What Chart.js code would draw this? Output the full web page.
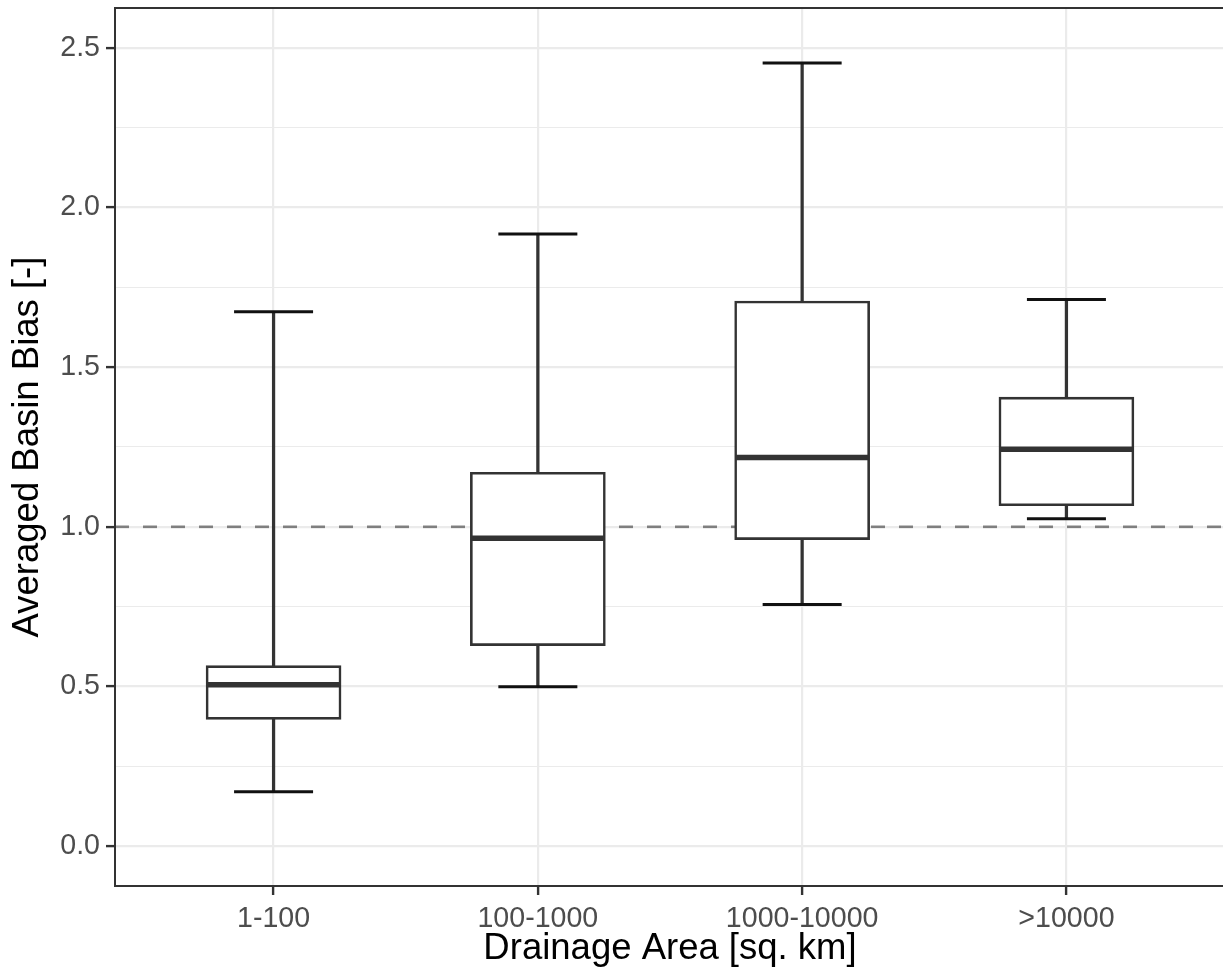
<!DOCTYPE html>
<html>
<head>
<meta charset="utf-8">
<script src="https://cdn.jsdelivr.net/npm/chart.js@4/dist/chart.umd.min.js"></script>
<style>
  html, body { margin: 0; padding: 0; background: #ffffff; overflow: hidden; }
  #wrap { width: 1226px; height: 976px; position: relative; }
</style>
</head>
<body>
<div id="wrap"><canvas id="c"></canvas></div>
<script>
// ---- data ----
const categories   = ['1-100', '100-1000', '1000-10000', '>10000'];
const whiskerLow   = [0.170, 0.499, 0.757, 1.025];
const quartile1    = [0.397, 0.628, 0.960, 1.066];
const medians      = [0.505, 0.964, 1.217, 1.243];
const quartile3    = [0.565, 1.171, 1.707, 1.406];
const whiskerHigh  = [1.674, 1.917, 2.453, 1.712];
const referenceValue = 1.0;
const yTickValues  = [0, 0.25, 0.5, 0.75, 1, 1.25, 1.5, 1.75, 2, 2.25, 2.5];
const xTitle = 'Drainage Area [sq. km]';
const yTitle = 'Averaged Basin Bias [-]';

const FONT = '"Liberation Sans", Arial, Helvetica, sans-serif';
const xPos = categories.map((_, i) => i + 1);
const isMajor = v => Math.abs(v * 2 - Math.round(v * 2)) < 1e-9;

const framePlugin = {
  id: 'frame',
  afterDatasetsDraw(chart) {
    const { ctx, chartArea: a } = chart;
    ctx.save();
    ctx.strokeStyle = '#333333';
    ctx.lineWidth = 2;
    ctx.strokeRect(a.left, a.top, a.right - a.left, a.bottom - a.top);
    ctx.restore();
  }
};

const datasets = [
  {
    type: 'line',
    label: 'reference',
    data: [{ x: 0.4, y: referenceValue }, { x: 4.6, y: referenceValue }],
    borderColor: '#7f7f7f',
    borderWidth: 2.6,
    borderDash: [14, 14],
    pointRadius: 0,
    order: 10
  },
  {
    type: 'bar',
    label: 'whiskers',
    data: xPos.map((x, i) => ({ x: x, y: [whiskerLow[i], whiskerHigh[i]] })),
    backgroundColor: '#333333',
    borderWidth: 0,
    barThickness: 2.6,
    grouped: false,
    order: 9
  },
  {
    type: 'bar',
    label: 'boxes',
    data: xPos.map((x, i) => ({ x: x, y: [quartile1[i], quartile3[i]] })),
    backgroundColor: '#ffffff',
    borderColor: '#333333',
    borderWidth: 2.6,
    borderSkipped: false,
    barThickness: 135,
    grouped: false,
    order: 8
  },
  {
    type: 'line',
    label: 'medians',
    data: xPos.map((x, i) => ({ x: x, y: medians[i] })),
    showLine: false,
    pointStyle: 'line',
    pointRadius: 66,
    pointBorderWidth: 5.5,
    pointBorderColor: '#333333',
    order: 7
  },
  {
    type: 'line',
    label: 'caps-high',
    data: xPos.map((x, i) => ({ x: x, y: whiskerHigh[i] })),
    showLine: false,
    pointStyle: 'line',
    pointRadius: 39.5,
    pointBorderWidth: 3,
    pointBorderColor: '#111111',
    order: 6
  },
  {
    type: 'line',
    label: 'caps-low',
    data: xPos.map((x, i) => ({ x: x, y: whiskerLow[i] })),
    showLine: false,
    pointStyle: 'line',
    pointRadius: 39.5,
    pointBorderWidth: 3,
    pointBorderColor: '#111111',
    order: 6
  }
];

new Chart(document.getElementById('c'), {
  type: 'bar',
  data: { datasets: datasets },
  plugins: [framePlugin],
  options: {
    responsive: true,
    maintainAspectRatio: false,
    animation: false,
    events: [],
    layout: { autoPadding: false, padding: { top: 8, right: 1, left: 0, bottom: 0 } },
    plugins: { legend: { display: false }, tooltip: { enabled: false } },
    scales: {
      x: {
        type: 'linear',
        min: 0.4,
        max: 4.6,
        offset: false,
        afterBuildTicks: axis => { axis.ticks = xPos.map(v => ({ value: v })); },
        afterFit: scale => {
          scale.height = 90;
          scale.paddingLeft = 0; scale.paddingRight = 0;
          scale.paddingTop = 0; scale.paddingBottom = 0;
        },
        border: { display: false },
        grid: {
          offset: false,
          color: '#ebebeb',
          lineWidth: 2.2,
          tickColor: '#333333',
          tickWidth: 2.4,
          tickLength: 9
        },
        ticks: {
          autoSkip: false,
          maxRotation: 0,
          padding: 7,
          color: '#4d4d4d',
          font: { family: FONT, size: 28.6 },
          callback: v => categories[Math.round(v) - 1]
        },
        title: {
          display: true,
          text: xTitle,
          color: '#000000',
          font: { family: FONT, size: 36.5 },
          padding: { top: 0, bottom: 5 }
        }
      },
      y: {
        type: 'linear',
        min: -0.125,
        max: 2.625,
        afterBuildTicks: axis => { axis.ticks = yTickValues.map(v => ({ value: v })); },
        afterFit: scale => {
          scale.width = 115;
          scale.paddingLeft = 0; scale.paddingRight = 0;
          scale.paddingTop = 0; scale.paddingBottom = 0;
        },
        border: { display: false },
        grid: {
          color: '#ebebeb',
          lineWidth: c => (c.tick && isMajor(c.tick.value)) ? 2.2 : 1.1,
          tickColor: c => (c.tick && isMajor(c.tick.value)) ? '#333333' : 'rgba(0,0,0,0)',
          tickWidth: 2.4,
          tickLength: 9
        },
        ticks: {
          padding: 6,
          color: '#4d4d4d',
          font: { family: FONT, size: 28.6 },
          callback: v => isMajor(v) ? v.toFixed(1) : ''
        },
        title: {
          display: true,
          text: yTitle,
          color: '#000000',
          font: { family: FONT, size: 36.5 },
          padding: { top: 6, bottom: 0 }
        }
      }
    }
  }
});
</script>
</body>
</html>
